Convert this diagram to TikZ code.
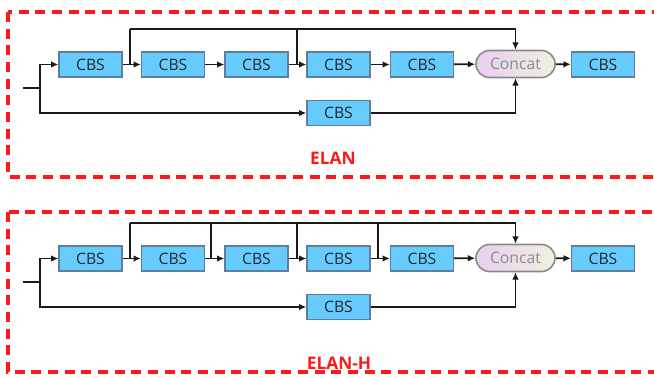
\documentclass[tikz,border=0pt]{standalone}
\usepackage{fontspec}
\setmainfont{Open Sans}
\usetikzlibrary{arrows.meta,shapes.misc}
\definecolor{cbsfill}{HTML}{66CCFF}
\definecolor{cbsdraw}{HTML}{5F7E9C}
\definecolor{catL}{HTML}{E9CDF2}
\definecolor{catR}{HTML}{EEF2DE}
\definecolor{catdraw}{HTML}{8A8A8A}
\definecolor{cattext}{HTML}{8C8C8C}
\definecolor{elanred}{HTML}{FF1A1A}
\tikzset{
  cbs/.style={draw=cbsdraw, line width=1pt, fill=cbsfill, minimum width={63*0.75pt}, minimum height={25*0.75pt}, inner sep=0pt, font=\fontsize{11.8}{13}\selectfont, text=black!85},
  cat/.style={rounded rectangle, draw=catdraw, line width=1.2pt, left color=catL, right color=catR, minimum width={79*0.75pt}, minimum height={27*0.75pt}, inner sep=0pt, font=\fontsize{11.8}{13}\selectfont, text=cattext},
  conn/.style={line width=1.25pt, black!90},
  arr/.style={conn, -{Latex[length=5.5pt,width=5pt]}},
  panel/.style={draw=elanred, line width=2.4pt, dash pattern=on 7.5pt off 5pt},
  lbl/.style={text=elanred, font=\bfseries\fontsize{13}{15}\selectfont}
}
\begin{document}
\begin{tikzpicture}[x=0.75pt,y=-0.75pt]
\useasboundingbox (0,0) rectangle (654,378);
\fill[white] (0,0) rectangle (654,378);
% ===== panel ELAN =====
\draw[panel] (8,12) rectangle (670,177);
\node[lbl] (lab1) at (333,158) {ELAN};
\node[cbs] (a1) at (90.5,64.5) {CBS};
\node[cbs] (a2) at (173,64.5) {CBS};
\node[cbs] (a3) at (256.5,64.5) {CBS};
\node[cbs] (a4) at (338.5,64.5) {CBS};
\node[cbs] (a5) at (422,64.5) {CBS};
\node[cat] (ac) at (515.5,64) {Concat};
\node[cbs] (a6) at (603,64.5) {CBS};
\node[cbs] (ab) at (338.5,113) {CBS};
\coordinate (ain) at (23,88);
\coordinate (abr) at (40,88);
\coordinate (aj1) at (130,64.5);
\coordinate (at1) at (130,29);
\coordinate (aj2) at (297,64.5);
\coordinate (at2) at (297,29);
\draw[conn] (ain) -- (abr);
\draw[arr] (abr) |- (a1.west);
\draw[arr] (abr) |- (ab.west);
\draw[arr] (a1) -- (a2);
\draw[arr] (a2) -- (a3);
\draw[arr] (a3) -- (a4);
\draw[arr] (a4) -- (a5);
\draw[arr] (a5) -- (ac);
\draw[arr] (ac) -- (a6);
\draw[conn] (aj1) -- (at1);
\draw[conn] (aj2) -- (at2);
\draw[arr] (at1) -| (ac.north);
\draw[arr] (ab.east) -| (ac.south);
% ===== panel ELAN-H =====
\draw[panel] (8,212) rectangle (670,372);
\node[lbl] (lab2) at (339,363) {ELAN-H};
\node[cbs] (b1) at (90.5,258.5) {CBS};
\node[cbs] (b2) at (173,258.5) {CBS};
\node[cbs] (b3) at (256.5,258.5) {CBS};
\node[cbs] (b4) at (338.5,258.5) {CBS};
\node[cbs] (b5) at (422,258.5) {CBS};
\node[cat] (bc) at (515.5,258) {Concat};
\node[cbs] (b6) at (603,258.5) {CBS};
\node[cbs] (bb) at (338.5,307) {CBS};
\coordinate (bin) at (23,282);
\coordinate (bbr) at (40,282);
\coordinate (bj1) at (130,258.5);
\coordinate (bt1) at (130,223);
\coordinate (bj2) at (211,258.5);
\coordinate (bt2) at (211,223);
\coordinate (bj3) at (297,258.5);
\coordinate (bt3) at (297,223);
\coordinate (bj4) at (378,258.5);
\coordinate (bt4) at (378,223);
\draw[conn] (bin) -- (bbr);
\draw[arr] (bbr) |- (b1.west);
\draw[arr] (bbr) |- (bb.west);
\draw[arr] (b1) -- (b2);
\draw[arr] (b2) -- (b3);
\draw[arr] (b3) -- (b4);
\draw[arr] (b4) -- (b5);
\draw[arr] (b5) -- (bc);
\draw[arr] (bc) -- (b6);
\draw[conn] (bj1) -- (bt1);
\draw[conn] (bj2) -- (bt2);
\draw[conn] (bj3) -- (bt3);
\draw[conn] (bj4) -- (bt4);
\draw[arr] (bt1) -| (bc.north);
\draw[arr] (bb.east) -| (bc.south);
\end{tikzpicture}
\end{document}
